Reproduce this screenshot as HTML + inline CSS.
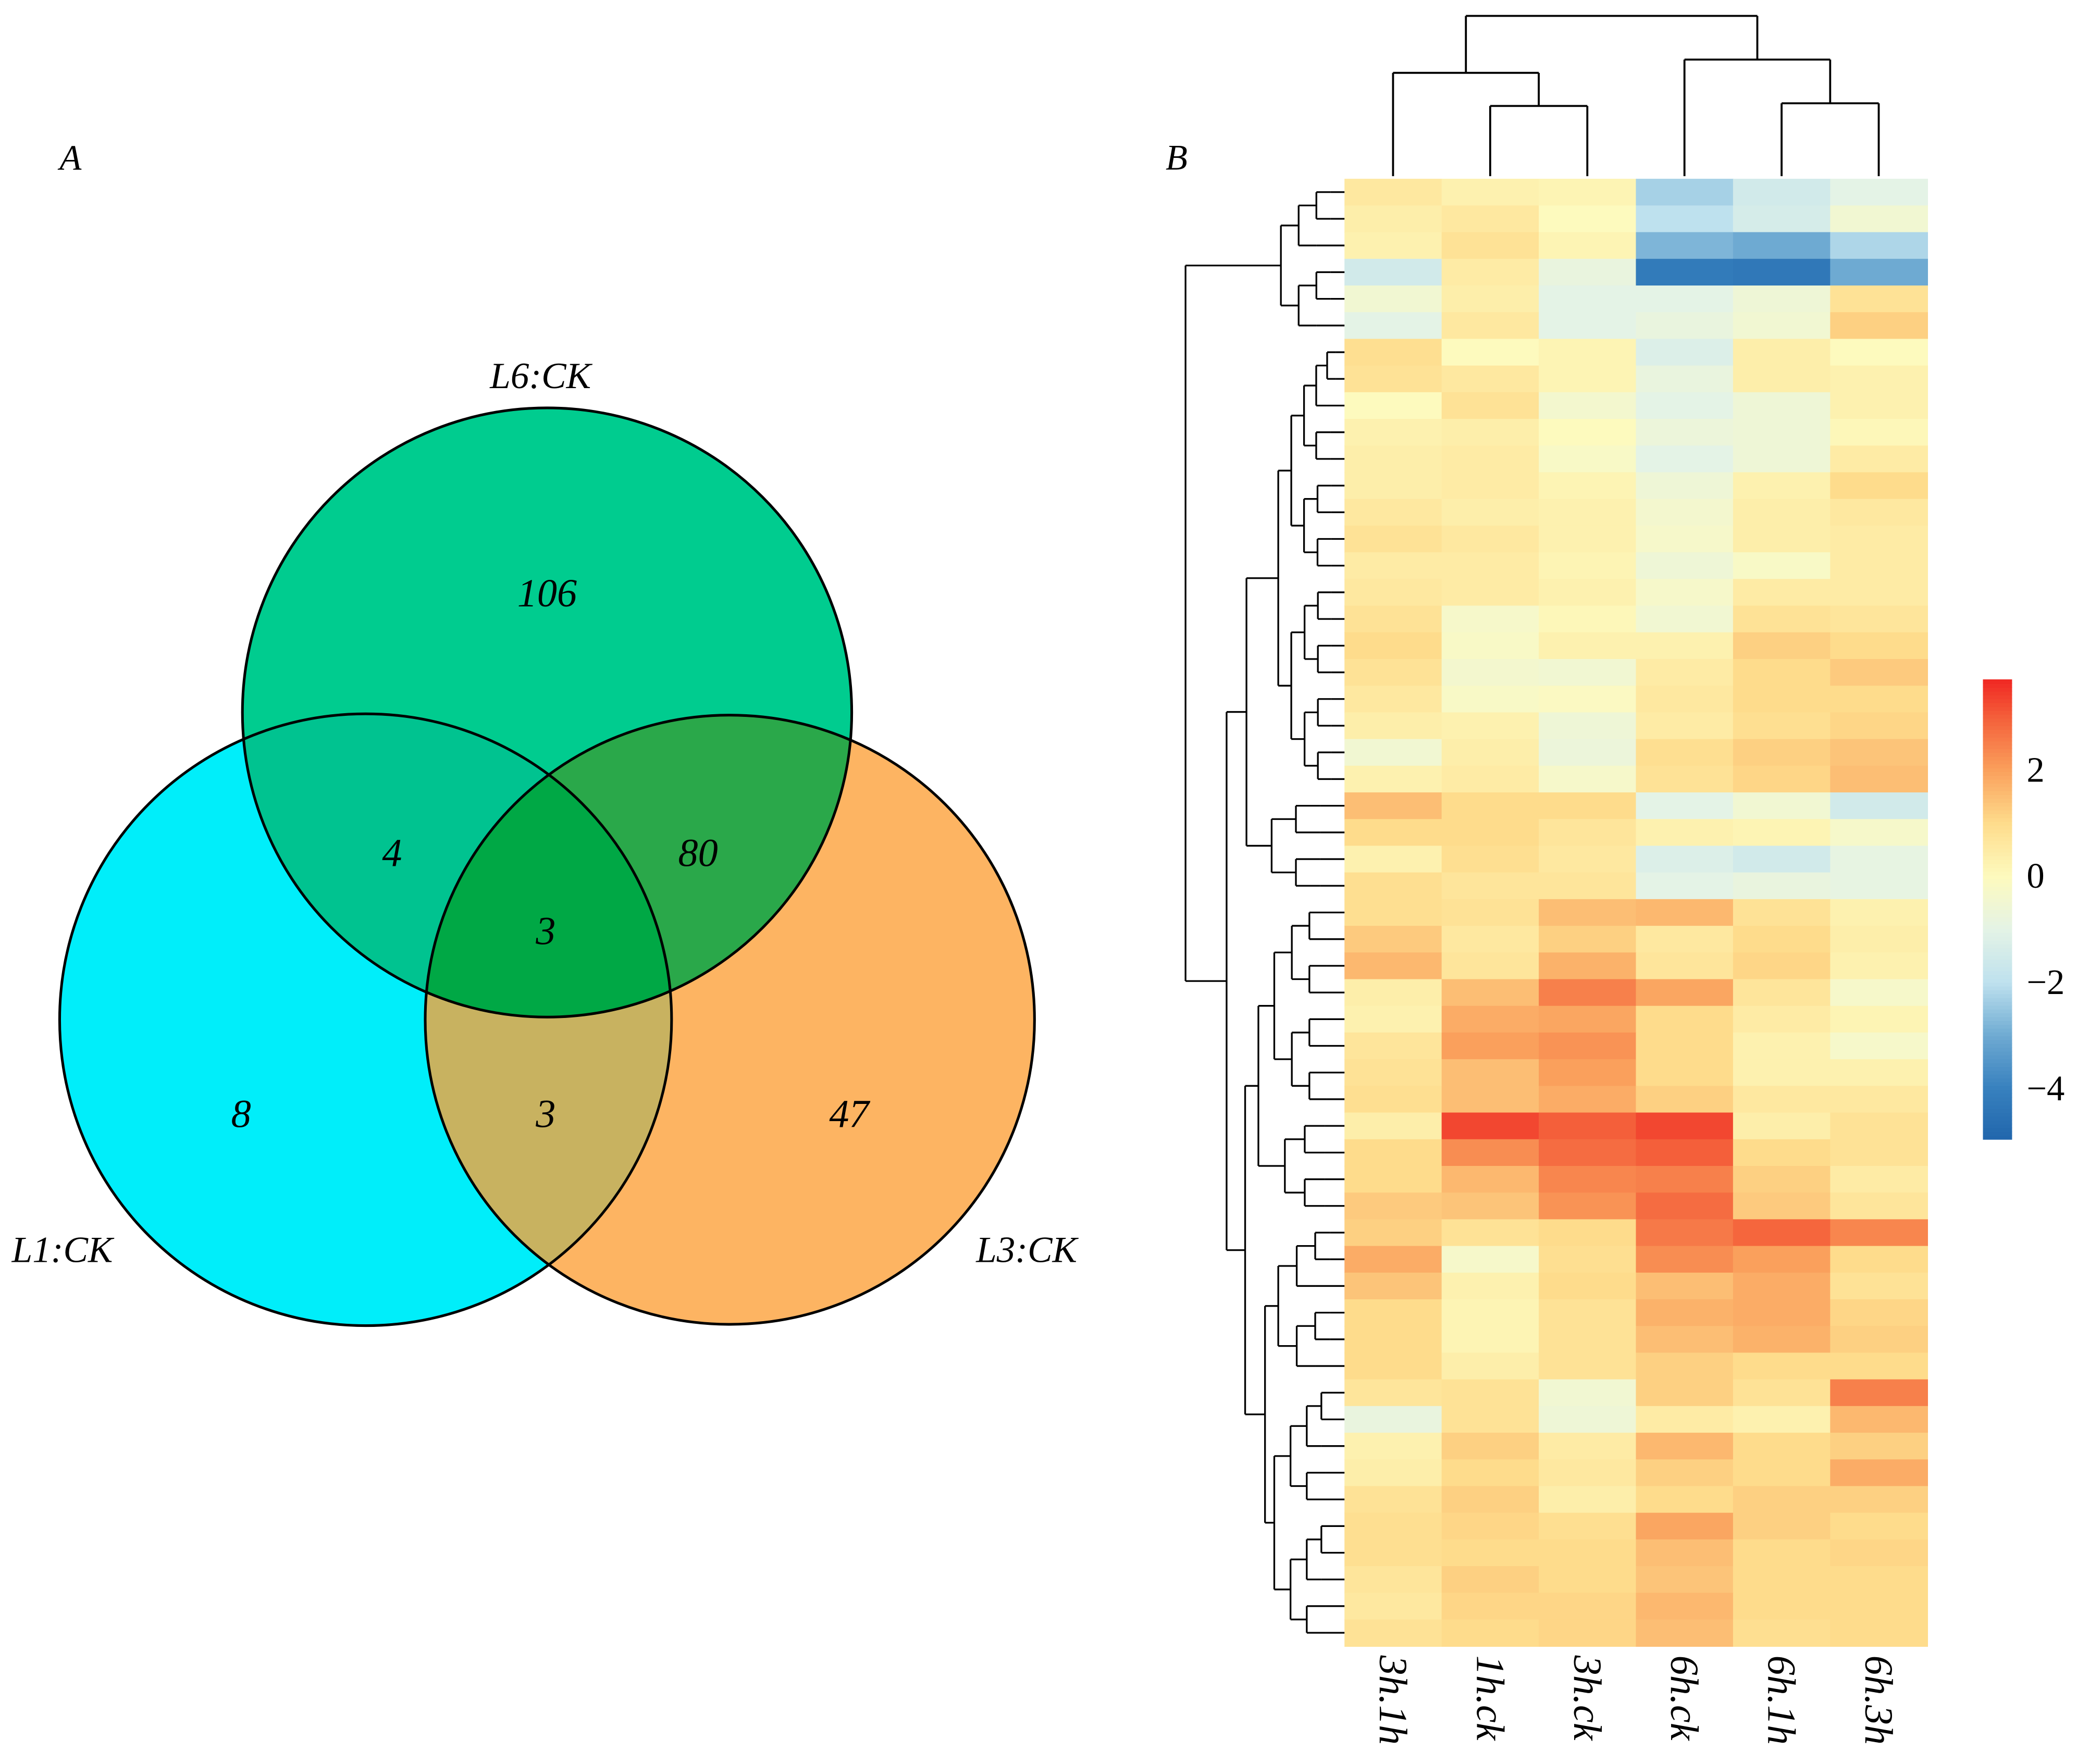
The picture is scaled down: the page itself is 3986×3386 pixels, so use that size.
<!DOCTYPE html>
<html><head><meta charset="utf-8"><style>
html,body{margin:0;padding:0;background:#fff;}
svg{display:block;}
text{font-family:"Liberation Serif",serif;}
</style></head><body>
<svg id="fig" width="3986" height="3386" viewBox="0 0 1568 1332" xmlns="http://www.w3.org/2000/svg">
<defs>
<clipPath id="cL1"><circle cx="276" cy="770" r="231"/></clipPath>
<clipPath id="cL3"><circle cx="551" cy="770" r="230"/></clipPath>
<clipPath id="cL6"><circle cx="413" cy="538" r="230"/></clipPath>
</defs>
<g>
<text x="45" y="128" font-size="27" font-style="italic">A</text>
<circle cx="276" cy="770" r="231" fill="#00eefa"/>
<circle cx="551" cy="770" r="230" fill="#fdb462"/>
<circle cx="413" cy="538" r="230" fill="#00cc8f"/>
<circle cx="551" cy="770" r="230" fill="#c8b260" clip-path="url(#cL1)"/>
<circle cx="413" cy="538" r="230" fill="#00c390" clip-path="url(#cL1)"/>
<circle cx="413" cy="538" r="230" fill="#2aa84a" clip-path="url(#cL3)"/>
<g clip-path="url(#cL1)"><circle cx="413" cy="538" r="230" fill="#00a845" clip-path="url(#cL3)"/></g>
<circle cx="276" cy="770" r="231" fill="none" stroke="#000" stroke-width="2"/>
<circle cx="551" cy="770" r="230" fill="none" stroke="#000" stroke-width="2"/>
<circle cx="413" cy="538" r="230" fill="none" stroke="#000" stroke-width="2"/>
<g font-size="30" font-style="italic" text-anchor="middle">
<text x="413" y="458">106</text>
<text x="296" y="654">4</text>
<text x="527" y="654">80</text>
<text x="412" y="713">3</text>
<text x="182" y="851">8</text>
<text x="412" y="851">3</text>
<text x="641" y="851">47</text>
</g>
<g font-size="28" font-style="italic" text-anchor="middle">
<text x="408" y="293">L6:CK</text>
<text x="47" y="953">L1:CK</text>
<text x="775" y="953">L3:CK</text>
</g>
</g>
<text x="880" y="128" font-size="27" font-style="italic">B</text>
<g id="heat"></g>
<g id="rowdend" stroke="#000" stroke-width="1.3" fill="none"></g>
<g id="coldend" stroke="#000" stroke-width="1.5" fill="none"></g>
<g id="collabels"></g>
<g id="cbarg"></g>
</svg>
<script>
const categories = ["3h.1h","1h.ck","3h.ck","6h.ck","6h.1h","6h.3h"];
const rowValues = [
[0.6,0.3,0.2,-2.3,-1.5,-1],[0.4,0.6,0,-2,-1.4,-0.5],[0.3,0.8,0.2,-2.8,-3,-2.2],[-1.5,0.5,-0.8,-4.2,-4.3,-3],
[-0.5,0.4,-1,-1,-0.6,0.8],[-1,0.6,-1,-0.8,-0.5,1.2],[0.9,0,0.2,-1.2,0.4,0],[0.8,0.6,0.2,-0.8,0.4,0.3],
[0,0.8,-0.4,-1,-0.6,0.3],[0.3,0.4,0,-0.7,-0.6,0.1],[0.4,0.5,-0.2,-1,-0.6,0.5],[0.4,0.5,0.2,-0.6,0.3,1],
[0.6,0.4,0.3,-0.4,0.4,0.6],[0.8,0.6,0.3,-0.3,0.4,0.5],[0.5,0.5,0.2,-0.6,-0.2,0.5],[0.6,0.5,0.3,-0.3,0.5,0.5],
[0.8,-0.3,0.1,-0.5,0.8,0.7],[1.0,-0.2,0.3,0.3,1.2,1.0],[0.8,-0.4,-0.5,0.5,1.0,1.3],[0.6,-0.2,-0.1,0.6,1.0,1.0],
[0.4,0.3,-0.6,0.5,0.9,1.1],[-0.5,0.4,-0.7,0.9,1.2,1.4],[0.3,0.5,-0.3,0.8,1.1,1.5],[1.5,1.0,1.0,-1,-0.5,-1.5],
[1.0,1.0,0.7,0.3,0.2,-0.3],[0.3,0.9,0.6,-1.2,-1.5,-0.9],[0.9,0.7,0.7,-1,-0.8,-0.9],[0.9,0.8,1.5,1.6,0.8,0.3],
[1.3,0.6,1.2,0.6,1.0,0.4],[1.6,0.7,1.7,0.7,1.1,0.3],[0.4,1.5,2.5,1.9,0.7,-0.3],[0.3,1.8,1.9,1.0,0.5,0.2],
[0.7,2.0,2.2,1.0,0.3,-0.3],[0.8,1.5,2.0,1.0,0.3,0.3],[0.9,1.5,1.8,1.2,0.6,0.6],[0.4,3.3,3.0,3.3,0.4,0.8],
[1.0,2.3,2.8,3.0,1.0,0.8],[1.0,1.6,2.4,2.5,1.2,0.5],[1.3,1.4,2.2,2.8,1.3,0.7],[1.2,0.8,1.0,2.6,2.9,2.4],
[1.8,-0.3,0.9,2.3,2.0,1.0],[1.4,0.3,1.0,1.5,1.8,0.8],[1.0,0.2,0.8,1.7,1.8,1.1],[1.0,0.2,0.8,1.5,1.7,1.2],
[1.0,0.4,0.8,1.2,1.0,1.0],[0.7,0.8,-0.5,1.2,0.8,2.5],[-0.8,0.8,-0.6,0.5,0.3,1.6],[0.3,1.2,0.5,1.6,1.0,1.2],
[0.4,1.0,0.6,1.2,1.0,1.8],[0.8,1.2,0.4,1.0,1.2,1.2],[0.9,1.1,0.9,1.9,1.2,1.0],[0.9,1.0,1.0,1.5,1.0,1.1],
[0.7,1.2,1.0,1.4,1.0,1.0],[0.6,1.1,1.1,1.6,1.0,1.0],[0.8,1.0,1.1,1.5,0.9,1.0]
];
const legendTicks = [2,0,-2,-4];
const legendTickLabels = ["2","0","\u22122","\u22124"];
const colorMin = -4.95, colorMax = 3.7;

const NS="http://www.w3.org/2000/svg";
function mk(tag,attrs,parent){const e=document.createElementNS(NS,tag);for(const k in attrs)e.setAttribute(k,attrs[k]);parent.appendChild(e);return e;}
const hx0=1015,hx1=1455,hy0=135,hy1=1243;
const colW=(hx1-hx0)/categories.length;
const rowH=(hy1-hy0)/rowValues.length;
const xCol=i=>hx0+i*colW;
const yRow=j=>hy0+j*rowH;
const stops=[[-4.95,[33,102,172]],[-4,[55,128,190]],[-3,[110,170,210]],[-2,[190,225,238]],[-1,[228,243,230]],[0,[253,250,190]],[1,[254,220,140]],[2,[250,160,92]],[3,[244,95,58]],[3.7,[240,40,35]]];
function color(v){v=Math.max(colorMin,Math.min(colorMax,v));for(let i=0;i<stops.length-1;i++){const[a,ca]=stops[i],[b,cb]=stops[i+1];if(v<=b){const t=(v-a)/(b-a);return "rgb("+ca.map((c,k)=>Math.round(c+(cb[k]-c)*t)).join(",")+")";}}return "rgb(240,40,35)";}
const heat=document.getElementById('heat');
rowValues.forEach((row,j)=>row.forEach((v,i)=>{
  const r=mk('rect',{x:xCol(i),y:yRow(j),width:colW+0.5,height:rowH+0.5,fill:color(v)},heat);
  
  
}));
const cl=document.getElementById('collabels');
categories.forEach((c,i)=>{
  const cx=xCol(i)+colW/2;
  const t=mk('text',{x:0,y:0,transform:`translate(${cx-10},1250) rotate(90)`,'font-size':30,'font-style':'italic'},cl);
  t.textContent=c;
  
  
});
const cd=document.getElementById('coldend');
const cc=i=>xCol(i)+colW/2;
function ln(p,x1,y1,x2,y2){mk('line',{x1,y1,x2,y2},p);}
function join(p,xa,ya,xb,yb,h){ln(p,xa,ya,xa,h);ln(p,xb,yb,xb,h);ln(p,xa,h,xb,h);}
const bot=133;
join(cd,cc(1),bot,cc(2),bot,80);
const m12=(cc(1)+cc(2))/2;
join(cd,cc(0),bot,m12,80,55);
join(cd,cc(4),bot,cc(5),bot,78);
const m45=(cc(4)+cc(5))/2;
join(cd,cc(3),bot,m45,78,45);
join(cd,(cc(0)+m12)/2,55,(cc(3)+m45)/2,45,12);
const rd=document.getElementById('rowdend');
const ry=j=>yRow(j)+rowH/2;
function build(lo,hi,x){
  if(lo===hi){ln(rd,x,ry(lo),hx0,ry(lo));return ry(lo);}
  const mid=Math.floor((lo+hi)/2);
  const step=(hx0-x)/(1+Math.log2(hi-lo+1));
  const nx=x+step;
  const ya=build(lo,mid,nx),yb=build(mid+1,hi,nx);
  ln(rd,x,ya,x,yb);ln(rd,x,ya,nx,ya);ln(rd,x,yb,nx,yb);
  return (ya+yb)/2;
}
function node(x,ya,xa,yb,xb){ln(rd,x,ya,x,yb);ln(rd,x,ya,xa,ya);ln(rd,x,yb,xb,yb);return (ya+yb)/2;}
const yA=build(0,5,967);
const yB=build(6,22,965);
const yC=build(23,26,960);
const yBC=node(941,yB,965,yC,960);
const yD=build(27,34,962);
const yE=build(35,38,970);
const yF=build(39,44,965);
const yG=build(45,54,962);
const yDE=node(950,yD,962,yE,970);
const yFG=node(955,yF,965,yG,962);
const yDG=node(940,yDE,950,yFG,955);
const yLow=node(926,yBC,941,yDG,940);
node(895,yA,967,yLow,926);
const cb=document.getElementById('cbarg');
const ly0=513,ly1=860;
const ly=v=>ly1-(v-colorMin)/(colorMax-colorMin)*(ly1-ly0);
for(let k=0;k<120;k++){
  const v0=colorMin+(colorMax-colorMin)*k/120, v1=colorMin+(colorMax-colorMin)*(k+1)/120;
  const r=mk('rect',{x:1497,y:ly(v1),width:22,height:ly(v0)-ly(v1)+0.6,fill:color((v0+v1)/2)},cb);
  
  
}
legendTicks.forEach((v,i)=>{
  const t=mk('text',{x:1530,y:ly(v)+9,'font-size':27},cb);
  t.textContent=legendTickLabels[i];
  
  
});
</script>
</body></html>
